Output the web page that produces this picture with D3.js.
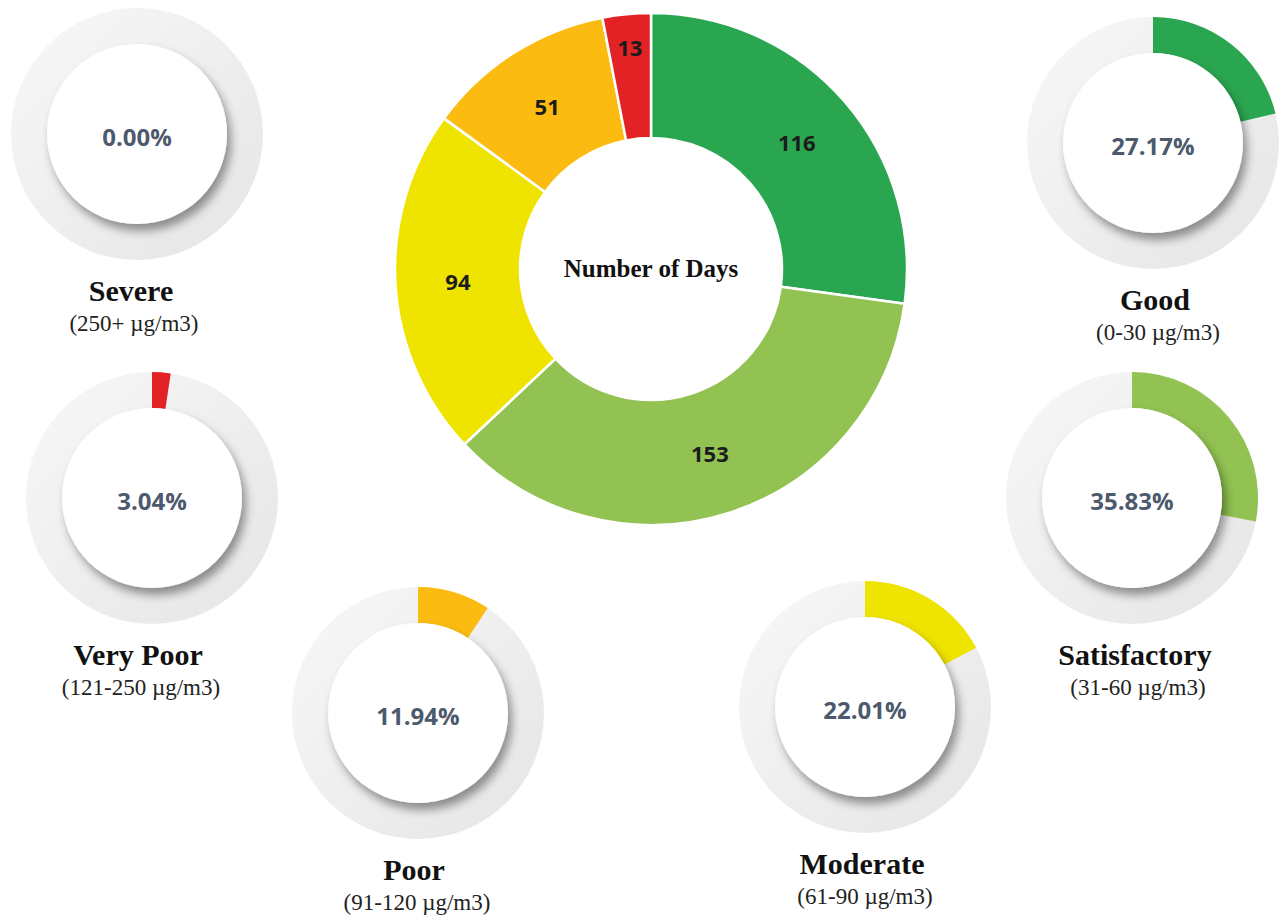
<!DOCTYPE html>
<html>
<head>
<meta charset="utf-8">
<script src="https://cdn.jsdelivr.net/npm/d3@7"></script>
<style>
  body { margin: 0; background: #fff; }
  svg { display: block; }
</style>
</head>
<body>
<script>
// data
var categories = ["Good", "Satisfactory", "Moderate", "Poor", "Very Poor", "Severe"];
var ranges = ["(0-30 \u00b5g/m3)", "(31-60 \u00b5g/m3)", "(61-90 \u00b5g/m3)", "(91-120 \u00b5g/m3)", "(121-250 \u00b5g/m3)", "(250+ \u00b5g/m3)"];
var days = [116, 153, 94, 51, 13, 0];
var percents = [27.17, 35.83, 22.01, 11.94, 3.04, 0.00];

var colorSet = {"Good": "#2aa650", "Satisfactory": "#91c252", "Moderate": "#efe300", "Poor": "#fbbb10", "Very Poor": "#e32226", "Severe": "#c00000"};

var width = 1279, height = 917;
var gaugeMax = 128; // the original gauges sweep less than the full circle

// where every small gauge sits (center + label center)
var gaugeLayout = {
    "Severe":       {cx: 137,  cy: 134, lx: 131},
    "Good":         {cx: 1153, cy: 143, lx: 1155},
    "Very Poor":    {cx: 152,  cy: 498, lx: 138},
    "Satisfactory": {cx: 1132, cy: 498, lx: 1135},
    "Poor":         {cx: 418,  cy: 713, lx: 414},
    "Moderate":     {cx: 865,  cy: 707, lx: 862}
};

var svg = d3.select("body").append("svg")
    .attr("width", width)
    .attr("height", height);

var defs = svg.append("defs");

// soft shadow under the white disc of each gauge
var shadow = defs.append("filter")
    .attr("id", "discShadow")
    .attr("x", "-30%").attr("y", "-30%")
    .attr("width", "160%").attr("height", "160%");
shadow.append("feDropShadow")
    .attr("dx", 4)
    .attr("dy", 7)
    .attr("stdDeviation", 5)
    .attr("flood-color", "#000")
    .attr("flood-opacity", 0.4);

var ringGrad = defs.append("linearGradient")
    .attr("id", "ringGrad")
    .attr("x1", "0").attr("y1", "0")
    .attr("x2", "1").attr("y2", "1");
ringGrad.append("stop").attr("offset", "0%").attr("stop-color", "#f8f8f8");
ringGrad.append("stop").attr("offset", "100%").attr("stop-color", "#e5e5e5");

function makeMainDonut() {
    var cx = 651, cy = 269, outerR = 256, innerR = 131;
    var g = svg.append("g").attr("transform", "translate(" + cx + "," + cy + ")");

    var slices = categories.map(function (c, i) { return {name: c, value: days[i]}; })
        .filter(function (d) { return d.value > 0; });

    var pie = d3.pie()
        .sort(null)
        .value(function (d) { return d.value; });

    var arc = d3.arc().innerRadius(innerR).outerRadius(outerR);
    var total = d3.sum(slices, function (d) { return d.value; });

    var arcs = pie(slices);

    g.selectAll("path.slice")
        .data(arcs)
        .enter().append("path")
        .attr("class", "slice")
        .attr("d", arc)
        .style("fill", function (d) { return colorSet[d.data.name]; })
        .style("stroke", "#fff")
        .style("stroke-width", 2.5);

    g.selectAll("text.val")
        .data(arcs)
        .enter().append("text")
        .attr("class", "val")
        .attr("transform", function (d) {
            // tiny slices get their label pushed outward, like the original
            var r = (d.data.value / total < 0.05) ? outerR - 33 : (innerR + outerR) / 2;
            var a = (d.startAngle + d.endAngle) / 2;
            return "translate(" + (r * Math.sin(a)) + "," + (-r * Math.cos(a)) + ")";
        })
        .attr("text-anchor", "middle")
        .attr("dominant-baseline", "central")
        .style("font-family", "'Open Sans', sans-serif")
        .style("font-weight", "bold")
        .style("font-size", "22px")
        .style("fill", "#1c1c1c")
        .text(function (d) { return d.data.value; });

    g.append("text")
        .attr("text-anchor", "middle")
        .attr("dominant-baseline", "central")
        .attr("y", -1)
        .style("font-family", "'Liberation Serif', 'Times New Roman', serif")
        .style("font-weight", "bold")
        .style("font-size", "25px")
        .style("fill", "#111")
        .text("Number of Days");
}

function makeGauge(name, i) {
    var pos = gaugeLayout[name];
    var ringR = 126, innerR = 90;
    var g = svg.append("g").attr("transform", "translate(" + pos.cx + "," + pos.cy + ")");

    var angle = d3.scaleLinear().domain([0, gaugeMax]).range([0, 2 * Math.PI]);

    // grey track
    g.append("path")
        .attr("d", d3.arc().innerRadius(innerR - 4).outerRadius(ringR).startAngle(0).endAngle(2 * Math.PI)())
        .style("fill", "url(#ringGrad)");

    // coloured share
    if (percents[i] > 0) {
        g.append("path")
            .attr("d", d3.arc().innerRadius(innerR).outerRadius(ringR).startAngle(0).endAngle(angle(percents[i]))())
            .style("fill", colorSet[name]);
    }

    // white disc with shadow
    g.append("circle")
        .attr("r", innerR)
        .style("fill", "#fff")
        .attr("filter", "url(#discShadow)");

    g.append("text")
        .attr("text-anchor", "middle")
        .attr("dominant-baseline", "central")
        .attr("y", 2)
        .style("font-family", "'Open Sans', sans-serif")
        .style("font-weight", "bold")
        .style("font-size", "24px")
        .style("fill", "#4d596d")
        .text(d3.format(".2f")(percents[i]) + "%");

    // labels below
    svg.append("text")
        .attr("x", pos.lx)
        .attr("y", pos.cy + 167)
        .attr("text-anchor", "middle")
        .style("font-family", "'Liberation Serif', 'Times New Roman', serif")
        .style("font-weight", "bold")
        .style("font-size", "30px")
        .style("fill", "#111")
        .text(name);

    svg.append("text")
        .attr("x", pos.lx + 3)
        .attr("y", pos.cy + 197)
        .attr("text-anchor", "middle")
        .style("font-family", "'Liberation Serif', 'Times New Roman', serif")
        .style("font-size", "23px")
        .style("fill", "#222")
        .text(ranges[i]);
}

makeMainDonut();
categories.forEach(function (c, i) { makeGauge(c, i); });
</script>
</body>
</html>
